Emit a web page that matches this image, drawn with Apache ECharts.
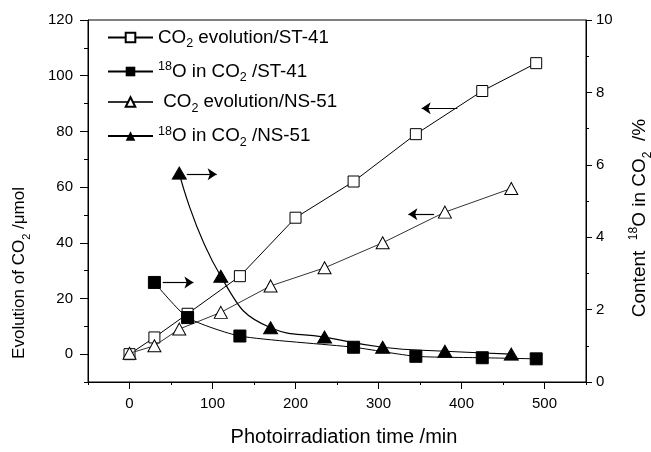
<!DOCTYPE html>
<html>
<head>
<meta charset="utf-8">
<script src="https://cdn.jsdelivr.net/npm/echarts@6/dist/echarts.min.js"></script>
<style>html,body{margin:0;padding:0;background:#fff}#c{width:651px;height:452px}</style>
</head>
<body>
<div id="c"></div>
<script>
// ---- data ----
const seriesNames = ['CO2 evolution/ST-41', '18O in CO2 /ST-41', 'CO2 evolution/NS-51', '18O in CO2 /NS-51'];
const stTime = [0, 30, 70, 133, 200, 270, 345, 425, 490];
const stCO2 = [0, 6, 14.5, 28, 49, 62, 79, 94.5, 104.5];
const st18Time = [30, 70, 133, 270, 345, 425, 490];
const st18O = [2.75, 1.78, 1.27, 0.96, 0.71, 0.67, 0.64];
const nsTime = [0, 30, 60, 110, 170, 235, 305, 380, 460];
const nsCO2 = [0.3, 3, 9, 15, 24.5, 31, 40, 51, 59.5];
const ns18Time = [60, 110, 170, 235, 305, 380, 460];
const ns18O = [5.77, 2.92, 1.5, 1.24, 0.96, 0.85, 0.77];
const xTicks = [0, 100, 200, 300, 400, 500];
const yLeftTicks = [0, 20, 40, 60, 80, 100, 120];
// arrow annotations [x1, y1, x2, y2] in data units
const arrowNs18 = [69, 5.74, 105, 5.74];
const arrowSt18 = [40, 2.75, 77, 2.75];
const arrowStCO2 = [395, 88.3, 352, 88.3];
const arrowNsCO2 = [367, 50.2, 336, 50.2];

const zip = (a, b) => a.map((v, i) => [v, b[i]]);
const FONT = '"Liberation Sans", Arial, Helvetica, sans-serif';

const legendRich = {
  n: { fontSize: 18.8, fontFamily: FONT, color: '#000', lineHeight: 26 },
  sub: { fontSize: 12.5, fontFamily: FONT, color: '#000', lineHeight: 12, verticalAlign: 'bottom' },
  sup: { fontSize: 12.5, fontFamily: FONT, color: '#000', lineHeight: 12, verticalAlign: 'top', padding: [2, 0, 0, 0] }
};
const legendText = {
  'CO2 evolution/ST-41': '{n|CO}{sub|2}{n| evolution/ST-41}',
  '18O in CO2 /ST-41': '{sup|18}{n|O in CO}{sub|2}{n| /ST-41}',
  'CO2 evolution/NS-51': '{n| CO}{sub|2}{n| evolution/NS-51}',
  '18O in CO2 /NS-51': '{sup|18}{n|O in CO}{sub|2}{n| /NS-51}'
};

function arrowLine(a) {
  return {
    silent: true,
    symbol: ['none', 'arrow'],
    symbolSize: 9,
    label: { show: false },
    lineStyle: { color: '#000', width: 1.2, type: 'solid' },
    itemStyle: { color: '#000' },
    data: [[{ coord: [a[0], a[1]] }, { coord: [a[2], a[3]] }]]
  };
}

const chart = echarts.init(document.getElementById('c'));
chart.setOption({
  animation: false,
  backgroundColor: '#fff',
  textStyle: { fontFamily: FONT },
  grid: { left: 88, right: 65, top: 20, bottom: 63, show: true, borderColor: '#000', borderWidth: 1 },
  legend: {
    orient: 'vertical',
    left: 107,
    top: 28,
    padding: 0,
    itemWidth: 45,
    itemHeight: 12,
    itemGap: 8,
    data: seriesNames,
    formatter: name => legendText[name],
    textStyle: { rich: legendRich, fontSize: 18.8, color: '#000' }
  },
  xAxis: [
    {
      type: 'value', min: -50, max: 550, position: 'bottom',
      name: 'Photoirradiation time /min', nameLocation: 'middle', nameGap: 45,
      nameTextStyle: { fontSize: 20, color: '#000', fontFamily: FONT, padding: [0, 0, 0, 14] },
      axisLine: { show: true, onZero: false, lineStyle: { color: '#000', width: 1 } },
      axisTick: { show: true, inside: false, length: 7, customValues: xTicks, lineStyle: { color: '#000' } },
      axisLabel: { show: true, margin: 14, fontSize: 15, color: '#000', customValues: xTicks },
      splitLine: { show: false }
    },
    {
      type: 'value', min: -50, max: 550, interval: 50, position: 'bottom',
      axisLine: { show: false, onZero: false },
      axisTick: { show: true, length: 3, lineStyle: { color: '#000' } },
      axisLabel: { show: false },
      splitLine: { show: false }
    }
  ],
  yAxis: [
    {
      type: 'value', min: -10, max: 120, position: 'left',
      axisLine: { show: true, onZero: false, lineStyle: { color: '#000', width: 1 } },
      axisTick: { show: true, length: 8, customValues: yLeftTicks, lineStyle: { color: '#000' } },
      axisLabel: { show: true, margin: 15, fontSize: 15, color: '#000', customValues: yLeftTicks },
      splitLine: { show: false }
    },
    {
      type: 'value', min: 0, max: 10, interval: 2, position: 'right',
      axisLine: { show: true, onZero: false, lineStyle: { color: '#000', width: 1 } },
      axisTick: { show: true, length: 6, lineStyle: { color: '#000' } },
      minorTick: { show: true, splitNumber: 2, length: 3, lineStyle: { color: '#000' } },
      axisLabel: { show: true, margin: 10, fontSize: 15, color: '#000' },
      splitLine: { show: false }
    },
    {
      type: 'value', min: -10, max: 120, interval: 10, position: 'left',
      axisLine: { show: false, onZero: false },
      axisTick: { show: true, length: 4, lineStyle: { color: '#000' } },
      axisLabel: { show: false },
      splitLine: { show: false }
    }
  ],
  graphic: [
    {
      type: 'text', x: 19, y: 273, rotation: Math.PI / 2,
      style: {
        text: '{n|Evolution of CO}{sub|2}{n| /μmol}',
        align: 'center', verticalAlign: 'middle',
        rich: {
          n: { fontSize: 17, fontFamily: FONT, fill: '#000', lineHeight: 26 },
          sub: { fontSize: 11, fontFamily: FONT, fill: '#000', lineHeight: 11, verticalAlign: 'bottom' }
        }
      }
    },
    {
      type: 'text', x: 640, y: 218, rotation: Math.PI / 2,
      style: {
        text: '{n|Content  }{sup|18}{n|O in CO}{sub|2}{n|  /%}',
        align: 'center', verticalAlign: 'middle',
        rich: {
          n: { fontSize: 19, fontFamily: FONT, fill: '#000', lineHeight: 28 },
          sub: { fontSize: 12, fontFamily: FONT, fill: '#000', lineHeight: 12, verticalAlign: 'bottom' },
          sup: { fontSize: 12, fontFamily: FONT, fill: '#000', lineHeight: 12, verticalAlign: 'top', padding: [2, 0, 0, 0] }
        }
      }
    }
  ],
  series: [
    {
      name: seriesNames[0], type: 'line', xAxisIndex: 0, yAxisIndex: 0,
      data: zip(stTime, stCO2),
      symbol: 'rect', symbolSize: 11,
      itemStyle: { color: '#fff', borderColor: '#000', borderWidth: 1 },
      lineStyle: { color: '#000', width: 1 },
      markLine: arrowLine(arrowStCO2),
      z: 2
    },
    {
      name: seriesNames[2], type: 'line', xAxisIndex: 0, yAxisIndex: 0,
      data: zip(nsTime, nsCO2),
      symbol: 'triangle', symbolSize: [13, 12],
      itemStyle: { color: '#fff', borderColor: '#000', borderWidth: 1 },
      lineStyle: { color: '#333', width: 1 },
      markLine: arrowLine(arrowNsCO2),
      z: 3
    },
    {
      name: seriesNames[1], type: 'line', xAxisIndex: 0, yAxisIndex: 1,
      data: zip(st18Time, st18O),
      symbol: 'rect', symbolSize: 12, smooth: 0.2,
      itemStyle: { color: '#000', borderColor: '#000' },
      lineStyle: { color: '#000', width: 1 },
      markLine: arrowLine(arrowSt18),
      z: 4
    },
    {
      name: seriesNames[3], type: 'line', xAxisIndex: 0, yAxisIndex: 1,
      data: zip(ns18Time, ns18O),
      symbol: 'triangle', symbolSize: [14, 12], smooth: 0.5,
      itemStyle: { color: '#000', borderColor: '#000' },
      lineStyle: { color: '#000', width: 1.2 },
      markLine: arrowLine(arrowNs18),
      z: 5
    }
  ]
});
</script>
</body>
</html>
